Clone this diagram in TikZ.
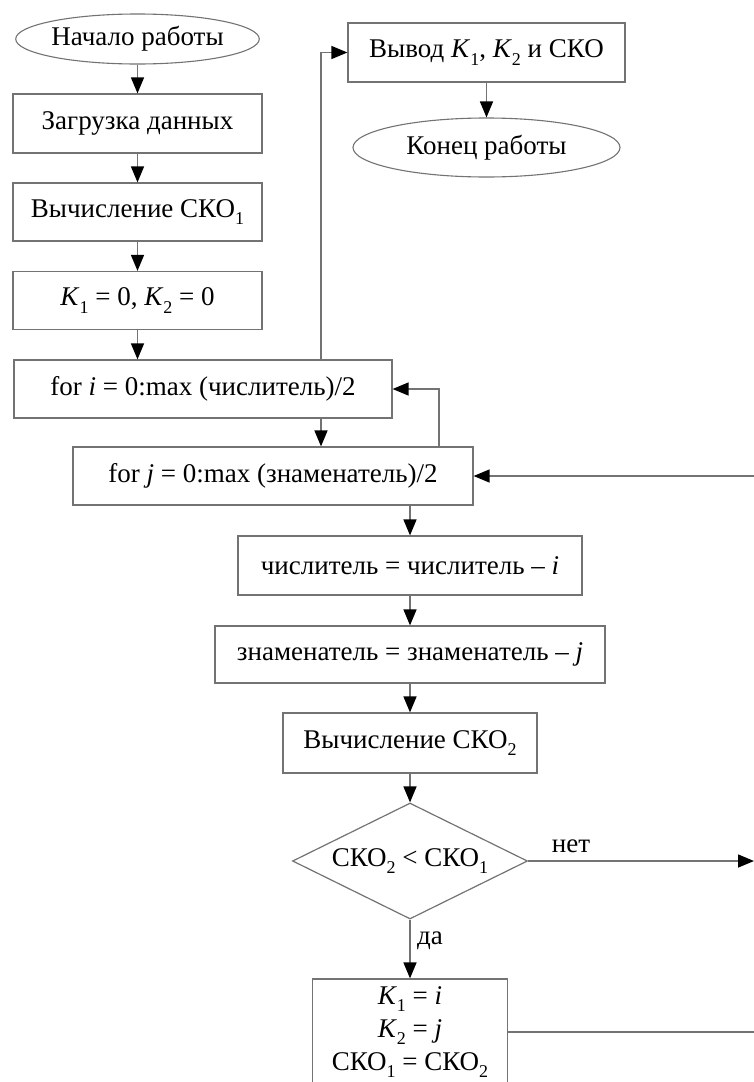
\documentclass[tikz,border=0pt]{standalone}
\usepackage{fontspec}
\setmainfont{Liberation Serif}
\usetikzlibrary{arrows.meta,shapes.geometric}
\definecolor{lnc}{gray}{0.45}
\newcommand{\lo}[1]{\raisebox{-0.28em}{\fontsize{18}{18}\selectfont #1}}
\begin{document}
\begin{tikzpicture}[x=1pt,y=-1pt,
  font=\fontsize{27}{33}\selectfont,
  box/.style={draw=lnc, line width=1.2pt, rectangle, inner sep=0pt, align=center},
  term/.style={draw=lnc, line width=1.1pt, ellipse, inner sep=0pt},
  dec/.style={draw=lnc, line width=1.2pt, diamond, shape aspect=2, inner sep=0pt},
  arr/.style={draw=lnc, line width=1.5pt, -{Triangle[length=16pt,width=13pt,color=black]}},
  plain/.style={draw=lnc, line width=1.5pt},
  lbl/.style={inner sep=0pt}]
\useasboundingbox (0,0) rectangle (754,1082);
\clip (0,0) rectangle (754,1082);
\fill[white] (0,0) rectangle (754,1082);

% coordinates used for connector columns
\coordinate (xi) at (321,0);
\coordinate (xj) at (439,0);
\coordinate (xc) at (410,0);
\coordinate (R) at (754,0);

% left column
\node[term, minimum width=235pt, minimum height=50pt] (start) at (137.5,39) {Начало работы};
\node[box, minimum width=249pt, minimum height=59pt] (load) at (137.5,123.5) {Загрузка данных};
\node[box, minimum width=249pt, minimum height=58pt] (sko1) at (137.5,212) {Вычисление СКО\lo{1}};
\node[box, minimum width=249pt, minimum height=58pt] (init) at (137.5,300.5) {\textit{K}\lo{1} = 0, \textit{K}\lo{2} = 0};

% loops
\node[box, minimum width=378pt, minimum height=58pt] (fi) at (203,389) {for \textit{i} = 0:max (числитель)/2};
\node[box, minimum width=400pt, minimum height=58pt] (fj) at (273,476) {for \textit{j} = 0:max (знаменатель)/2};

% centre column
\node[box, minimum width=344pt, minimum height=59pt] (num) at (410,565.5) {числитель = числитель – \textit{i}};
\node[box, minimum width=390pt, minimum height=57pt] (den) at (410,654.5) {знаменатель = знаменатель – \textit{j}};
\node[box, minimum width=254pt, minimum height=60pt] (sko2) at (410,743) {Вычисление СКО\lo{2}};
\node[dec, minimum width=235pt, minimum height=116pt] (dia) at (410,861) {СКО\lo{2} < СКО\lo{1}};
\node[box, minimum width=195pt, minimum height=106pt] (kb) at (410,1032)
  {\textit{K}\lo{1} = \textit{i}\\ \textit{K}\lo{2} = \textit{j}\\ СКО\lo{1} = СКО\lo{2}};

% output column
\node[box, minimum width=277pt, minimum height=59pt] (out) at (486.5,52.5) {Вывод \textit{K}\lo{1}, \textit{K}\lo{2} и СКО};
\node[term, minimum width=267pt, minimum height=59pt] (fin) at (486.5,147.5) {Конец работы};

% connectors
\draw[arr] (start) -- (load);
\draw[arr] (load) -- (sko1);
\draw[arr] (sko1) -- (init);
\draw[arr] (init.south) -- (init.south |- fi.north);
\draw[arr] (fi.north -| xi) |- (out.west);
\draw[arr] (out) -- (fin);
\draw[arr] (fi.south -| xi) -- (fj.north -| xi);
\draw[arr] (fj.north -| xj) |- (fi.east);
\draw[arr] (fj.east -| R) -- (fj.east);
\draw[arr] (fj.south -| xc) -- (num.north);
\draw[arr] (num) -- (den);
\draw[arr] (den) -- (sko2);
\draw[arr] (sko2) -- (dia.north);
\draw[arr] (dia.east) -- (dia.east -| R);
\draw[arr] (dia.south) -- (kb.north);
\draw[plain] (kb.east) -- (kb.east -| R);

% labels
\node[lbl] (no) at (571,846) {нет};
\node[lbl, anchor=west] (yes) at (417,941) {да};
\end{tikzpicture}
\end{document}
